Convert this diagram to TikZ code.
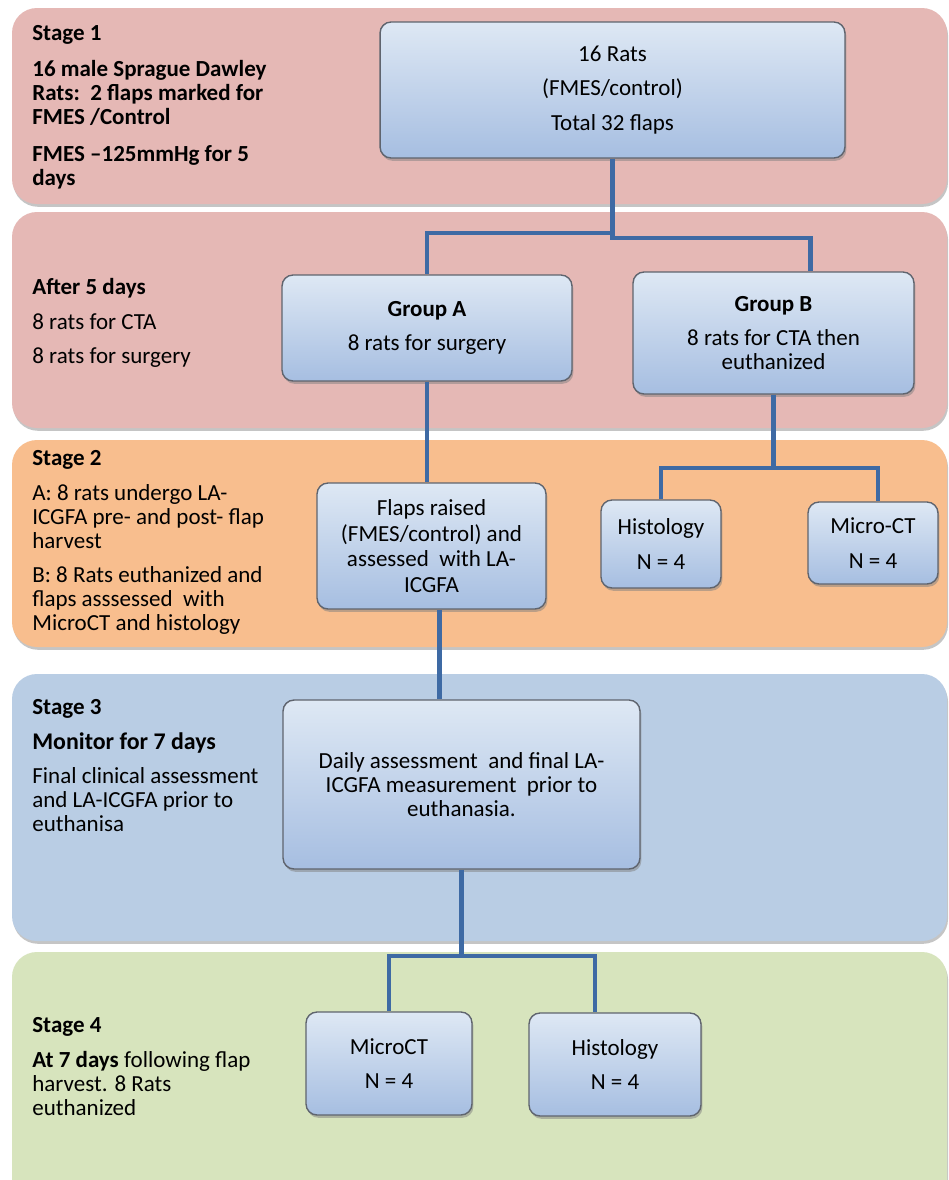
\documentclass[tikz,border=0pt]{standalone}
\usepackage{fontspec}
\setmainfont{Carlito}
\usetikzlibrary{calc,shadows}

\definecolor{bandpink}{RGB}{229,184,181}
\definecolor{bandorange}{RGB}{248,190,142}
\definecolor{bandblue}{RGB}{185,205,228}
\definecolor{bandgreen}{RGB}{215,228,189}
\definecolor{boxtop}{RGB}{222,232,244}
\definecolor{boxbottom}{RGB}{166,190,225}
\definecolor{boxline}{RGB}{95,100,110}
\definecolor{linkblue}{RGB}{62,106,164}

\tikzset{
  band/.style={rounded corners=0.5cm,
    drop shadow={shadow xshift=0.6pt, shadow yshift=-1.6pt, opacity=0.45}},
  stepbox/.style={draw=boxline, line width=0.8pt, rounded corners=0.22cm,
    top color=boxtop, bottom color=boxbottom, align=center, inner sep=2pt,
    drop shadow={shadow xshift=0.8pt, shadow yshift=-1.6pt, opacity=0.5}},
  stagetext/.style={anchor=north west, align=left, inner sep=0pt},
  link/.style={draw=linkblue, line width=2.3pt},
}

\begin{document}
\begin{tikzpicture}[x=0.02cm, y=-0.02cm, font=\fontsize{13.1}{13.7}\selectfont]
    \clip (0,0) rectangle (949,1180);
    \fill[white] (0,0) rectangle (949,1180);

    % stage bands
    \path[band, fill=bandpink] (12,8) rectangle (947,204);
    \path[band, fill=bandpink] (12,212) rectangle (947,428);
    \path[band, fill=bandorange] (12,440) rectangle (947,647);
    \path[band, fill=bandblue] (12,674) rectangle (947,941);
    \path[band, fill=bandgreen] (12,952) rectangle (947,1210);

    % left hand notes
    \node[stagetext] (note1) at (32,25) {\bfseries Stage 1\\[7pt]
        \bfseries 16 male Sprague Dawley\\ \bfseries Rats:\ \ 2 flaps marked for\\ \bfseries FMES /Control\\[7pt]
        \bfseries FMES --125mmHg for 5\\ \bfseries days};
    \node[stagetext] (note2) at (32,278) {\textbf{After 5 days}\\[6pt]
        8 rats for CTA\\[6pt] 8 rats for surgery};
    \node[stagetext] (note3) at (32,450) {\textbf{Stage 2}\\[6pt]
        A: 8 rats undergo LA-\\ ICGFA pre- and post- flap\\ harvest\\[6pt]
        B: 8 Rats euthanized and\\ flaps asssessed\ \ with\\ MicroCT and histology};
    \node[stagetext] (note4) at (32,699) {\textbf{Stage 3}\\[6pt]
        {\fontsize{13.6}{14}\selectfont\bfseries Monitor for 7 days}\\[6pt]
        Final clinical assessment\\ and LA-ICGFA prior to\\ euthanisa};
    \node[stagetext] (note5) at (32,1017) {\textbf{Stage 4}\\[6pt]
        \textbf{At 7 days} following flap\\ harvest. 8 Rats\\ euthanized};

    % boxes
    \node[stepbox, minimum width=9.3cm, minimum height=2.72cm] (rats) at (612.5,90)
        {16 Rats\\[6pt] (FMES/control)\\[6pt] Total 32 flaps};
    \node[stepbox, minimum width=5.8cm, minimum height=2.12cm] (grpA) at (427,328)
        {\textbf{Group A}\\[6pt] 8 rats for surgery};
    \node[stepbox, minimum width=5.62cm, minimum height=2.44cm] (grpB) at (773.5,333)
        {\textbf{Group B}\\[6pt] 8 rats for CTA then\\ euthanized};
    \node[stepbox, minimum width=4.58cm, minimum height=2.52cm] (flaps) at (431.5,546)
        {Flaps raised\\[1pt] (FMES/control) and\\[1pt] assessed\ \ with LA-\\[1pt] ICGFA};
    \node[stepbox, minimum width=2.4cm, minimum height=1.76cm] (histA) at (661,544)
        {Histology\\[6pt] N = 4};
    \node[stepbox, minimum width=2.6cm, minimum height=1.64cm] (microA) at (873,543)
        {Micro-CT\\[6pt] N = 4};
    \node[stepbox, minimum width=7.14cm, minimum height=3.38cm] (daily) at (461.5,784.5)
        {Daily assessment\ \ and final LA-\\ ICGFA measurement\ \ prior to\\ euthanasia.};
    \node[stepbox, minimum width=3.32cm, minimum height=2.06cm] (microB) at (389,1063.5)
        {MicroCT\\[6pt] N = 4};
    \node[stepbox, minimum width=3.44cm, minimum height=2.06cm] (histB) at (615,1064.5)
        {Histology\\[6pt] N = 4};

    % connectors
    \draw[link] (rats.south) -- ++(0,79) -| ($(grpB.north)+(37,0)$);
    \draw[link] ($(rats.south)+(0,74)$) -| (grpA.north);
    \draw[link] (grpA.south) -- (grpA.south |- flaps.north);
    \draw[link] (grpB.south) -- ++(0,73) coordinate (jB) -| (histA.north);
    \draw[link] (jB) -| ($(microA.north)+(5,0)$);
    \coordinate (fB) at ($(flaps.south)+(8,0)$);
    \draw[link] (fB) -- (fB |- daily.north);
    \draw[link] (daily.south) -- ++(0,86) coordinate (jD) -| (microB.north);
    \draw[link] (jD) -| ($(histB.north)+(-20,0)$);
\end{tikzpicture}
\end{document}
